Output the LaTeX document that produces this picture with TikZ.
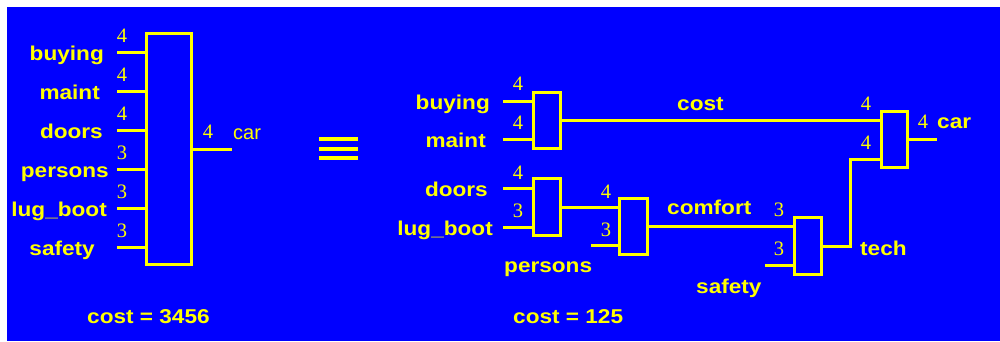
\documentclass[tikz,border=0pt]{standalone}
\usepackage{fontspec}
\newfontfamily\labfam{Liberation Sans}[FakeStretch=1.13]
\newfontfamily\carfam{Liberation Sans}
\newfontfamily\numfam{Liberation Serif}
\definecolor{bg}{RGB}{0,0,255}
\definecolor{ylw}{RGB}{255,255,0}
\tikzset{
  gate/.style={draw=ylw, line width=3pt, inner sep=0pt, minimum width=#1},
  wire/.style={draw=ylw, line width=3pt},
  lab/.style={text=ylw, inner sep=0pt, font=\labfam\bfseries\fontsize{20}{24}\selectfont},
  rlab/.style={text=ylw, inner sep=0pt, font=\carfam\fontsize{20}{24}\selectfont},
  num/.style={text=ylw, inner sep=0pt, font=\numfam\fontsize{20.5}{24}\selectfont},
}
\begin{document}
\begin{tikzpicture}[x=1pt,y=-1pt]
\useasboundingbox (0,0) rectangle (1000,341);
\fill[white] (0,0) rectangle (1000,341);
\fill[bg] (7,7) rectangle (1000,341);

% ---------- left: single big box ----------
\node[gate=45pt, minimum height=231pt] (bb) at (169,149) {};
\foreach \n/\y/\v/\t/\tx in {1/52/4/buying/104, 2/91/4/maint/100, 3/130/4/doors/103,
                            4/169/3/persons/109, 5/208/3/lug\_boot/107, 6/247/3/safety/95}{
  \coordinate (bbi\n) at (117,\y);
  \draw[wire] (bbi\n) -- (bbi\n -| bb.west);
  \node[num] (bbn\n) at (122,\y-16) {\v};
  \node[lab, anchor=base east] (bbl\n) at (\tx,\y+8) {\t};
}
\coordinate (bbo) at (232,149);
\draw[wire] (bb.east |- bbo) -- (bbo);
\node[num] (bbon) at (208,132) {4};
\node[rlab, anchor=base west] (bbcar) at (233,139) {car};
\node[lab, anchor=base west] (cost1) at (87,323) {cost = 3456};

% equivalence sign
\foreach \y in {139,148.7,158.3}{
  \draw[ylw, line width=4pt] (319,\y) -- (358,\y);
}

% ---------- right: decomposition ----------
\node[gate=27pt, minimum height=56pt] (b1) at (547,120.5) {};
\node[gate=27pt, minimum height=57pt] (b2) at (547,207) {};
\node[gate=28pt, minimum height=56pt] (b3) at (633.5,226.5) {};
\node[gate=27pt, minimum height=57pt] (b4) at (808,246) {};
\node[gate=26pt, minimum height=56pt] (b5) at (894.5,139.5) {};

% box 1 inputs
\coordinate (b1i1) at (503,101);
\coordinate (b1i2) at (503,139);
\draw[wire] (b1i1) -- (b1i1 -| b1.west);
\draw[wire] (b1i2) -- (b1i2 -| b1.west);
\node[num] (b1n1) at (518,84) {4};
\node[num] (b1n2) at (518,123) {4};
\node[lab, anchor=base east] (lbuy) at (490,109) {buying};
\node[lab, anchor=base east] (lmaint) at (486,147) {maint};

% box 2 inputs
\coordinate (b2i1) at (503,188);
\coordinate (b2i2) at (503,227);
\draw[wire] (b2i1) -- (b2i1 -| b2.west);
\draw[wire] (b2i2) -- (b2i2 -| b2.west);
\node[num] (b2n1) at (518,173) {4};
\node[num] (b2n2) at (518,211) {3};
\node[lab, anchor=base east] (ldoors) at (488,196) {doors};
\node[lab, anchor=base east] (llug) at (493,235) {lug\_boot};

% box 3 inputs
\draw[wire] (b2.east) -- (b2.east -| b3.west);
\coordinate (b3i2) at (591,245);
\draw[wire] (b3i2) -- (b3i2 -| b3.west);
\node[num] (b3n1) at (606,192) {4};
\node[num] (b3n2) at (606,230) {3};
\node[lab, anchor=base west] (lpers) at (504,272) {persons};

% box 4 inputs
\draw[wire] (b3.east) -- (b3.east -| b4.west);
\node[lab, anchor=base west] (lcomf) at (667,214) {comfort};
\coordinate (b4i2) at (765,265);
\draw[wire] (b4i2) -- (b4i2 -| b4.west);
\node[num] (b4n1) at (779,210) {3};
\node[num] (b4n2) at (779,249) {3};
\node[lab, anchor=base west] (lsafe) at (696,293) {safety};

% box 5 inputs
\draw[wire] (b1.east) -- (b1.east -| b5.west);
\node[lab, anchor=base west] (lcost) at (677,110) {cost};
\coordinate (tbend) at (850,159);
\draw[wire] (b4.east) -| (tbend) -- (tbend -| b5.west);
\node[lab, anchor=base west] (ltech) at (860,255) {tech};
\node[num] (b5n1) at (866,104) {4};
\node[num] (b5n2) at (866,143) {4};

% output
\coordinate (b5o) at (937,139.5);
\draw[wire] (b5.east) -- (b5o);
\node[num] (b5on) at (923,122) {4};
\node[lab, anchor=base west] (lcar) at (937,128) {car};
\node[lab, anchor=base west] (cost2) at (513,323) {cost = 125};
\end{tikzpicture}
\end{document}
